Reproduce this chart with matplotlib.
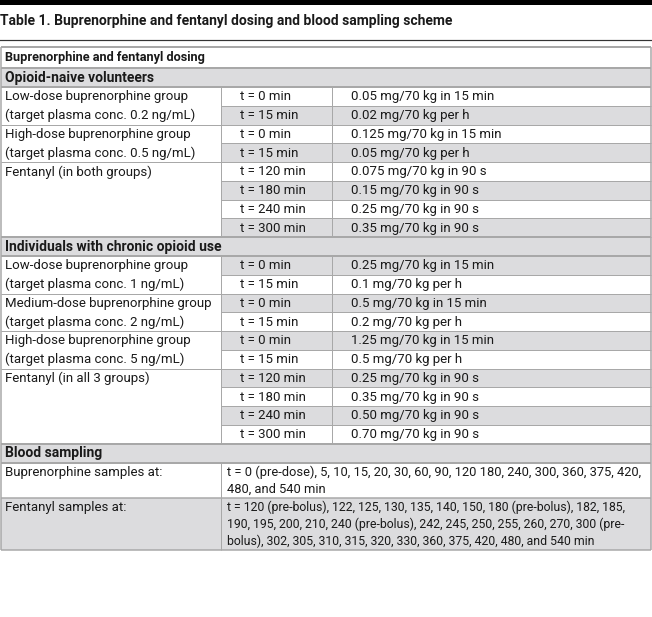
import matplotlib
matplotlib.use("Agg")
import matplotlib.pyplot as plt
from matplotlib.patches import Rectangle
from matplotlib import font_manager

names = {f.name for f in font_manager.fontManager.ttflist}
FAM = ["Roboto", "DejaVu Sans"] if "Roboto" in names else ["DejaVu Sans"]
plt.rcParams["font.family"] = FAM

title = "Table 1. Buprenorphine and fentanyl dosing and blood sampling scheme"
section_header = "Buprenorphine and fentanyl dosing"

naive_header = "Opioid-naive volunteers"
naive_groups = ["Low-dose buprenorphine group\n(target plasma conc. 0.2 ng/mL)",
                "High-dose buprenorphine group\n(target plasma conc. 0.5 ng/mL)",
                "Fentanyl (in both groups)"]
naive_group_rows = [2, 2, 4]
naive_times = ["t = 0 min", "t = 15 min", "t = 0 min", "t = 15 min",
               "t = 120 min", "t = 180 min", "t = 240 min", "t = 300 min"]
naive_doses = ["0.05 mg/70 kg in 15 min", "0.02 mg/70 kg per h",
               "0.125 mg/70 kg in 15 min", "0.05 mg/70 kg per h",
               "0.075 mg/70 kg in 90 s", "0.15 mg/70 kg in 90 s",
               "0.25 mg/70 kg in 90 s", "0.35 mg/70 kg in 90 s"]

chronic_header = "Individuals with chronic opioid use"
chronic_groups = ["Low-dose buprenorphine group\n(target plasma conc. 1 ng/mL)",
                  "Medium-dose buprenorphine group\n(target plasma conc. 2 ng/mL)",
                  "High-dose buprenorphine group\n(target plasma conc. 5 ng/mL)",
                  "Fentanyl (in all 3 groups)"]
chronic_group_rows = [2, 2, 2, 4]
chronic_times = ["t = 0 min", "t = 15 min", "t = 0 min", "t = 15 min", "t = 0 min", "t = 15 min",
                 "t = 120 min", "t = 180 min", "t = 240 min", "t = 300 min"]
chronic_doses = ["0.25 mg/70 kg in 15 min", "0.1 mg/70 kg per h",
                 "0.5 mg/70 kg in 15 min", "0.2 mg/70 kg per h",
                 "1.25 mg/70 kg in 15 min", "0.5 mg/70 kg per h",
                 "0.25 mg/70 kg in 90 s", "0.35 mg/70 kg in 90 s",
                 "0.50 mg/70 kg in 90 s", "0.70 mg/70 kg in 90 s"]

sampling_header = "Blood sampling"
sampling_labels = ["Buprenorphine samples at:", "Fentanyl samples at:"]
sampling_text = ["t = 0 (pre-dose), 5, 10, 15, 20, 30, 60, 90, 120 180, 240, 300, 360, 375, 420,\n480, and 540 min",
                 "t = 120 (pre-bolus), 122, 125, 130, 135, 140, 150, 180 (pre-bolus), 182, 185,\n"
                 "190, 195, 200, 210, 240 (pre-bolus), 242, 245, 250, 255, 260, 270, 300 (pre-\n"
                 "bolus), 302, 305, 310, 315, 320, 330, 360, 375, 420, 480, and 540 min"]
sampling_fs = [9.3, 8.85]

W, H = 652, 617
fig = plt.figure(figsize=(W / 100, H / 100), dpi=100)
ax = fig.add_axes([0, 0, 1, 1])
ax.set_xlim(0, W)
ax.set_ylim(H, 0)
ax.axis("off")

GRAY = "#dcdcde"
LINE = "#a8a8a8"
TXT = "#1a1a1a"
FS = 9.5
X0, X1, X2, X3 = 1, 221, 332, 651
RH = 18.75
LH = 16.6
px = 0.72

# top black band and title
ax.add_patch(Rectangle((0, 0), W, 5, color="black", lw=0))
ax.text(0, 21, title, fontsize=10.0, fontweight="bold", color=TXT, va="center", ha="left")
ax.plot([0, W], [40, 40], color="#333333", lw=1.2 * px)

def hline(y, xa, xb, lw=1.0):
    ax.plot([xa, xb], [y, y], color=LINE, lw=lw * px, solid_capstyle="butt")

def vline(x, ya, yb, lw=1.0):
    ax.plot([x, x], [ya, yb], color=LINE, lw=lw * px, solid_capstyle="butt")

y = 47
hline(y, X0, X3, 2)
ax.text(X0 + 4, y + 11, section_header, fontsize=9.2, fontweight="bold", color=TXT, va="center")
y = 68

def section(y, header, groups, group_rows, times, doses, start_gray):
    ax.add_patch(Rectangle((X0, y), X3 - X0, 19, color=GRAY, lw=0))
    hline(y, X0, X3, 2)
    ax.text(X0 + 4, y + 10, header, fontsize=10.0, fontweight="bold", color=TXT, va="center")
    y += 19
    hline(y, X0, X3, 2)
    i = 0
    for g, n in zip(groups, group_rows):
        gy = y
        glines = g.split("\n")
        for k, ln in enumerate(glines):
            ax.text(X0 + 4, gy + RH / 2 + 0.5 + k * RH, ln, fontsize=FS, color=TXT, va="center")
        for r in range(n):
            ry = y + r * RH
            gray = ((i % 2) == 1) != start_gray
            if gray:
                ax.add_patch(Rectangle((X1, ry), X3 - X1, RH, color=GRAY, lw=0))
            ax.text(X1 + 19, ry + RH / 2 + 0.5, times[i], fontsize=FS, color=TXT, va="center")
            ax.text(X2 + 19, ry + RH / 2 + 0.5, doses[i], fontsize=FS, color=TXT, va="center")
            if r > 0:
                hline(ry, X1, X3)
            i += 1
        y += n * RH
        hline(y, X0, X3)
        vline(X1, gy, y)
        vline(X2, gy, y)
    return y

y = section(y, naive_header, naive_groups, naive_group_rows, naive_times, naive_doses, False)
y = section(y, chronic_header, chronic_groups, chronic_group_rows, chronic_times, chronic_doses, True)

# blood sampling
ax.add_patch(Rectangle((X0, y), X3 - X0, 19, color=GRAY, lw=0))
hline(y, X0, X3, 2)
ax.text(X0 + 4, y + 10, sampling_header, fontsize=10.0, fontweight="bold", color=TXT, va="center")
y += 19
hline(y, X0, X3, 2)
for j, (lab, txt, sfs) in enumerate(zip(sampling_labels, sampling_text, sampling_fs)):
    nl = txt.count("\n") + 1
    rh = RH + (nl - 1) * LH
    if j % 2 == 1:
        ax.add_patch(Rectangle((X0, y), X3 - X0, rh, color=GRAY, lw=0))
    ax.text(X0 + 4, y + RH / 2 + 0.5, lab, fontsize=FS, color=TXT, va="center")
    for k, ln in enumerate(txt.split("\n")):
        ax.text(X1 + 6, y + RH / 2 + 0.5 + k * LH, ln, fontsize=sfs, color=TXT, va="center")
    vline(X1, y, y + rh)
    y += rh
    hline(y, X0, X3, 1.5)

vline(X0, 47, y, 1.5)
vline(X3, 47, y, 1.5)

fig.savefig("out.png", dpi=100)
